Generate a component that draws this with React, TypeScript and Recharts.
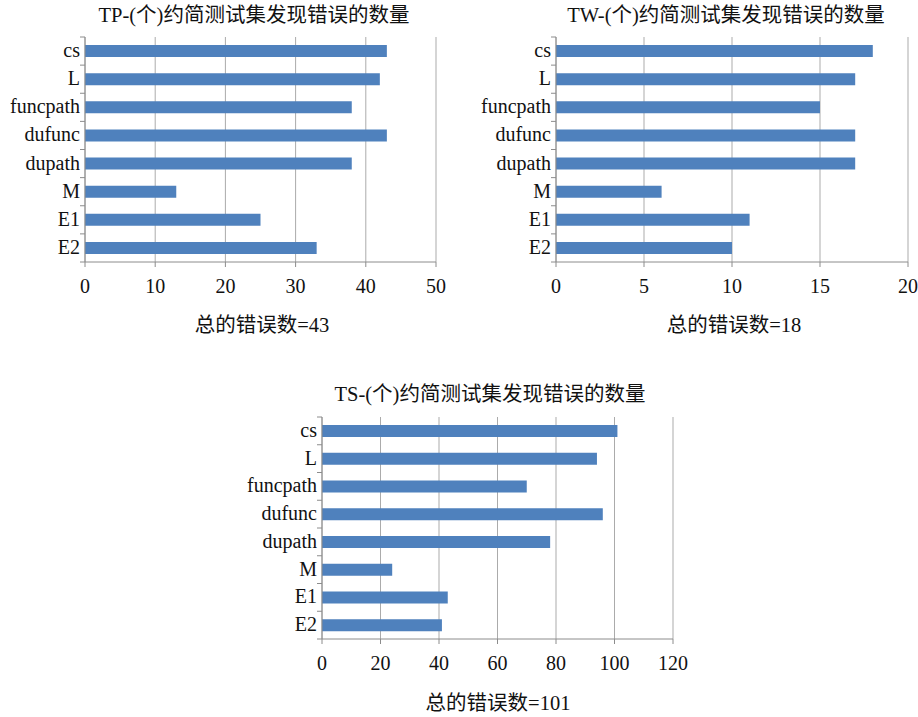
import { BarChart, Bar, XAxis, YAxis, CartesianGrid } from "recharts";

const categories = ["cs", "L", "funcpath", "dufunc", "dupath", "M", "E1", "E2"];
const tpValues = [43, 42, 38, 43, 38, 13, 25, 33];
const twValues = [18, 17, 15, 17, 17, 6, 11, 10];
const tsValues = [101, 94, 70, 96, 78, 24, 43, 41];
const tpTicks = [0, 10, 20, 30, 40, 50];
const twTicks = [0, 5, 10, 15, 20];
const tsTicks = [0, 20, 40, 60, 80, 100, 120];

const FONT = '"Liberation Serif", "Noto Sans CJK SC", serif';
const BAR = "#4f81bd";
const GRID = "#ababab";
const AXIS = "#8c8c8c";

function CategoryTick(props: any) {
  const { x, y, payload, index, band, count } = props;
  const half = band / 2;
  return (
    <g>
      <line x1={x - 5} y1={y - half} x2={x} y2={y - half} stroke={AXIS} />
      {index === count - 1 && (
        <line x1={x - 5} y1={y + half} x2={x} y2={y + half} stroke={AXIS} />
      )}
      <text
        x={x - 5}
        y={y - 1}
        dy="0.35em"
        textAnchor="end"
        fontSize={20}
        fontFamily={FONT}
        fill="#111"
      >
        {payload.value}
      </text>
    </g>
  );
}

function Panel({
  left,
  top,
  width,
  height,
  margin,
  yWidth,
  values,
  ticks,
  title,
  titleAt,
  note,
  noteAt,
}: {
  left: number;
  top: number;
  width: number;
  height: number;
  margin: { top: number; right: number; bottom: number; left: number };
  yWidth: number;
  values: number[];
  ticks: number[];
  title: string;
  titleAt: [number, number];
  note: string;
  noteAt: [number, number];
}) {
  const rows = categories.map((name, i) => ({ name, value: values[i] }));
  const plotHeight = height - margin.top - margin.bottom - 30;
  const band = plotHeight / categories.length;
  const label = (at: [number, number], text: string, size: number) => (
    <div
      style={{
        position: "absolute",
        left: at[0],
        top: at[1],
        transform: "translate(-50%, -50%)",
        whiteSpace: "nowrap",
        fontFamily: FONT,
        fontSize: size,
        color: "#111",
        lineHeight: 1,
      }}
    >
      {text}
    </div>
  );
  return (
    <>
      <div style={{ position: "absolute", left, top }}>
        <BarChart
          width={width}
          height={height}
          data={rows}
          layout="vertical"
          margin={margin}
          barCategoryGap={0}
        >
          <CartesianGrid horizontal={false} stroke={GRID} />
          <XAxis
            type="number"
            domain={[ticks[0], ticks[ticks.length - 1]]}
            ticks={ticks}
            interval={0}
            height={30}
            stroke={AXIS}
            tickSize={5}
            tickMargin={12}
            tick={{ fill: "#111", fontSize: 20, fontFamily: FONT }}
          />
          <YAxis
            type="category"
            dataKey="name"
            width={yWidth}
            stroke={AXIS}
            tickLine={false}
            tickSize={0}
            tickMargin={0}
            interval={0}
            tick={<CategoryTick band={band} count={categories.length} />}
          />
          <Bar dataKey="value" fill={BAR} barSize={12} isAnimationActive={false} />
        </BarChart>
      </div>
      {label(titleAt, title, 20.5)}
      {label(noteAt, note, 20.5)}
    </>
  );
}

export default function App() {
  return (
    <div
      style={{
        position: "absolute",
        left: 0,
        top: 0,
        width: 918,
        height: 717,
        background: "#fff",
        overflow: "hidden",
      }}
    >
      <Panel
        left={0}
        top={0}
        width={460}
        height={340}
        margin={{ top: 37, right: 24, bottom: 48, left: 0 }}
        yWidth={85}
        values={tpValues}
        ticks={tpTicks}
        title="TP-(个)约简测试集发现错误的数量"
        titleAt={[254, 15]}
        note="总的错误数=43"
        noteAt={[262, 325]}
      />
      <Panel
        left={460}
        top={0}
        width={458}
        height={340}
        margin={{ top: 37, right: 10, bottom: 48, left: 0 }}
        yWidth={96}
        values={twValues}
        ticks={twTicks}
        title="TW-(个)约简测试集发现错误的数量"
        titleAt={[726, 15]}
        note="总的错误数=18"
        noteAt={[734, 325]}
      />
      <Panel
        left={230}
        top={370}
        width={470}
        height={347}
        margin={{ top: 47, right: 27, bottom: 48, left: 0 }}
        yWidth={92}
        values={tsValues}
        ticks={tsTicks}
        title="TS-(个)约简测试集发现错误的数量"
        titleAt={[490, 394]}
        note="总的错误数=101"
        noteAt={[498, 703]}
      />
    </div>
  );
}
